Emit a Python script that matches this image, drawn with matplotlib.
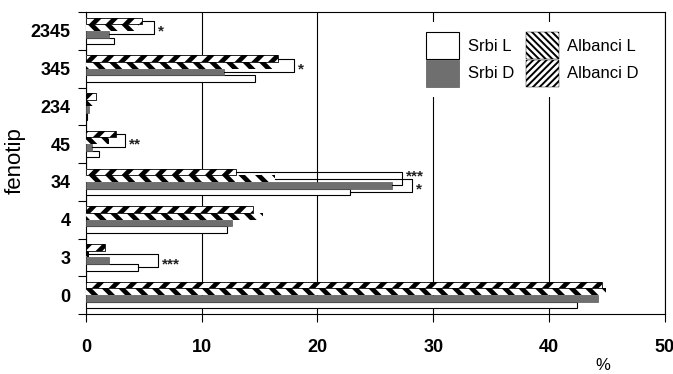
import matplotlib

matplotlib.use("Agg")
import numpy as np
from matplotlib import pyplot as plt

# phenotype categories, bottom to top
categories = ["0", "3", "4", "34", "45", "234", "345", "2345"]
srbi_l = [42.4, 4.5, 12.2, 22.8, 1.15, 0.1, 14.6, 2.45]
srbi_d = [44.2, 2.0, 12.6, 26.4, 0.5, 0.3, 11.95, 2.0]
albanci_l = [44.9, 0.3, 15.3, 16.35, 2.0, 0.7, 16.2, 4.6]
albanci_d = [44.6, 1.6, 14.45, 13.0, 2.6, 0.9, 16.6, 4.8]
series_names = ["Srbi L", "Srbi D", "Albanci L", "Albanci D"]
x_ticks = [0, 10, 20, 30, 40, 50]

# significance brackets: (category, series a, series b, bracket x, stars, star at top?)
brackets = [
    ("2345", 3, 1, 5.9, "*", False),
    ("345", 3, 1, 18.0, "*", False),
    ("45", 3, 1, 3.4, "**", False),
    ("34", 3, 1, 27.3, "***", True),
    ("34", 2, 0, 28.2, "*", False),
    ("3", 2, 0, 6.25, "***", False),
]

plt.rcParams["font.family"] = ["Liberation Sans", "DejaVu Sans"]
plt.rcParams["hatch.linewidth"] = 3.4

fig = plt.figure(figsize=(6.73, 3.74), dpi=100)
ax = fig.add_axes([0.1278, 0.1604, 0.8599, 0.8075])

values = [srbi_l, srbi_d, albanci_l, albanci_d]
styles = [
    dict(color="white", edgecolor="black", linewidth=0.8),
    dict(color="#6f6f6f", edgecolor="#5a5a5a", linewidth=0.5),
    dict(color="white", edgecolor="black", linewidth=0, hatch="\\\\"),
    dict(color="white", edgecolor="black", linewidth=0, hatch="//"),
]
bar_h = 0.177
offsets = [-0.265, -0.088, 0.088, 0.265]
y = np.arange(len(categories))

for vals, off, st, name in zip(values, offsets, styles, series_names):
    ax.barh(y + off, vals, height=bar_h, label=name, zorder=3, **st)

# thin outline on top of the Albanci D bars
ax.barh(y + offsets[3], albanci_d, height=bar_h, fill=False, edgecolor="black",
        linewidth=0.6, zorder=3.5)

# brackets with stars
for cat, a, b, bx, stars, at_top in brackets:
    i = categories.index(cat)
    ya = i + offsets[a]
    yb = i + offsets[b]
    xa = values[a][i]
    xb = values[b][i]
    ax.plot([xa, bx, bx, xb], [ya, ya, yb, yb], color="black", lw=0.8, zorder=4)
    ty = ya - 0.12 if at_top else (ya + yb) / 2 - 0.1
    ax.text(bx + 0.35, ty, stars, fontsize=11, fontweight="bold",
            ha="left", va="center", color="#222222")

ax.set_xlim(0, 50)
ax.set_ylim(-0.5, len(categories) - 0.5)
ax.set_xticks(x_ticks)
ax.set_xticklabels([str(t) for t in x_ticks], fontsize=13, fontweight="bold")
ax.set_yticks(y)
ax.set_yticklabels(categories, fontsize=13, fontweight="bold")
ax.set_yticks(np.arange(-0.5, len(categories)), minor=True)
ax.tick_params(axis="y", which="major", length=0, pad=11)
ax.tick_params(axis="y", which="minor", length=6, width=0.8, direction="out")
ax.tick_params(axis="x", length=6, width=0.8, direction="out", pad=12)
ax.grid(axis="x", color="black", lw=0.8, zorder=0)
for sp in ax.spines.values():
    sp.set_linewidth(0.8)

leg = ax.legend(
    handles=[c.patches[0] for c in ax.containers[:4]],
    labels=series_names,
    ncol=2,
    loc="upper left",
    bbox_to_anchor=(0.556, 0.994),
    fontsize=12,
    handlelength=2.0,
    handleheight=2.1,
    labelspacing=0.05,
    handletextpad=0.5,
    columnspacing=0.7,
    borderpad=0.6,
    frameon=True,
    fancybox=False,
    framealpha=1,
)
leg.get_frame().set_edgecolor("none")
for h, hatch in zip(leg.legend_handles[2:], ["\\\\\\\\\\", "/////"]):
    h.set_hatch(hatch)
    h.set_linewidth(0.3)
    try:
        h.set_hatch_linewidth(1.4)
    except AttributeError:
        pass

fig.text(0.022, 0.572, "fenotip", rotation=90, fontsize=16, ha="center", va="center")
fig.text(0.896, 0.022, "%", fontsize=12, ha="center", va="center")

fig.savefig("out.png", dpi=100)
